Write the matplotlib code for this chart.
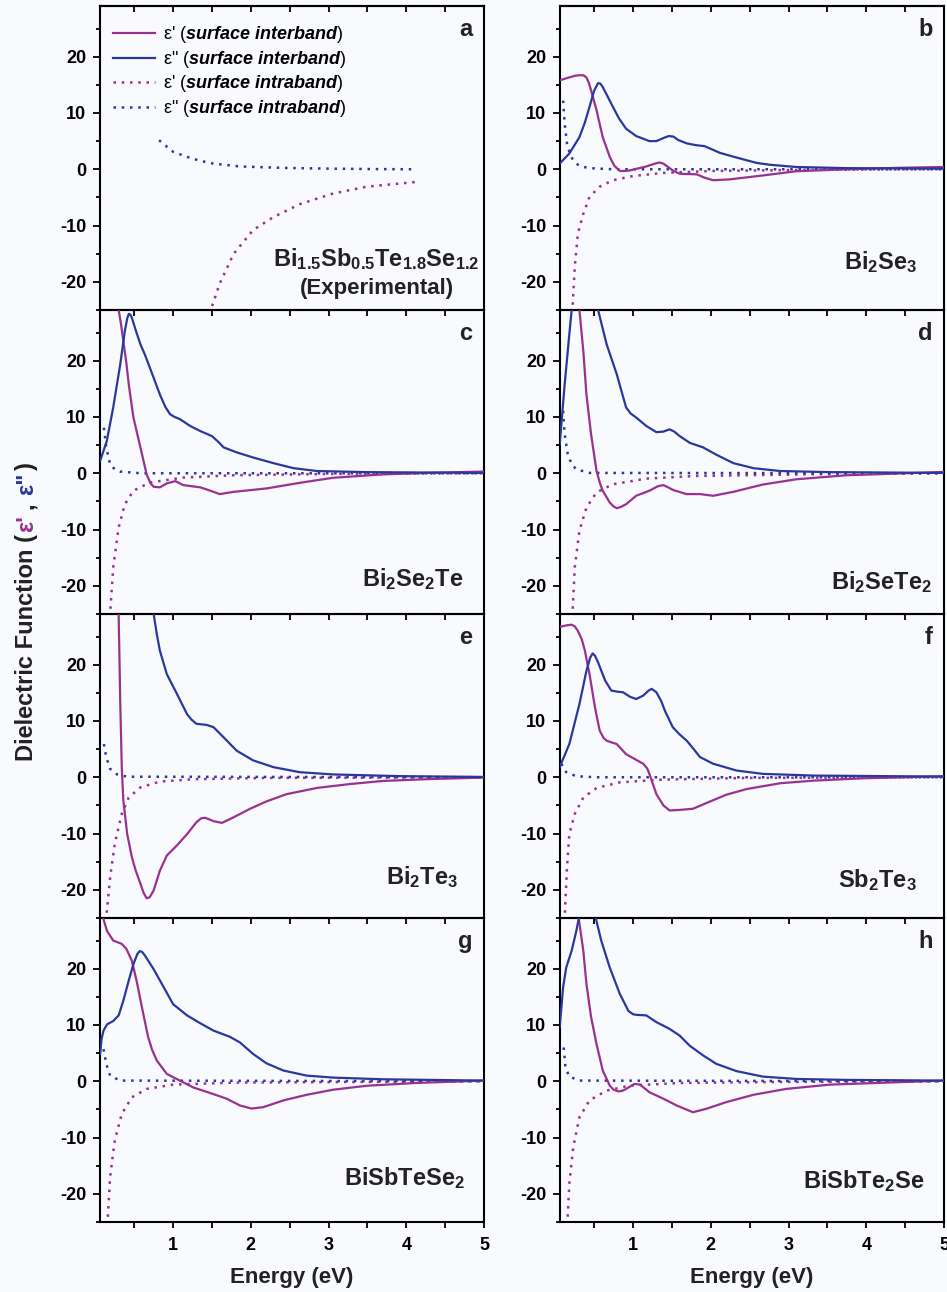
import matplotlib
matplotlib.use("Agg")
import matplotlib.pyplot as plt
from matplotlib.ticker import MultipleLocator
from matplotlib.transforms import IdentityTransform

plt.rcParams['font.family'] = ['Liberation Sans', 'DejaVu Sans']
plt.rcParams['font.weight'] = 'bold'
plt.rcParams['axes.unicode_minus'] = False
plt.rcParams['mathtext.fontset'] = 'custom'
plt.rcParams['mathtext.rm'] = 'Liberation Sans'
plt.rcParams['mathtext.it'] = 'Liberation Sans:italic'
plt.rcParams['mathtext.bf'] = 'Liberation Sans:bold'
plt.rcParams['mathtext.bfit'] = 'Liberation Sans:italic:bold'

PURPLE = '#98318F'
BLUE = '#2A389C'
BG = '#F9FAFD'

# ---- data: (energy eV, value) ----
# a: Bi1.5Sb0.5Te1.8Se1.2 (experimental), intraband only
a_intra_re = [(1.42, -27.0), (1.485, -25.0), (1.60, -20.3), (1.78, -15.0), (2.03, -10.8), (2.29, -8.5),
              (2.63, -6.2), (3.06, -4.3), (3.49, -3.1), (4.13, -2.25)]
a_intra_im = [(0.82, 5.15), (1.0, 3.1), (1.18, 2.2), (1.35, 1.5), (1.52, 1.0), (1.86, 0.5), (2.42, 0.24),
              (3.06, 0.1), (3.6, 0.03), (4.13, 0.0)]

# b: Bi2Se3
b_inter_re = [(0.056, 15.8), (0.15, 16.2), (0.25, 16.6), (0.31, 16.7), (0.36, 16.7), (0.40, 16.3), (0.43, 15.4),
              (0.46, 14.0), (0.53, 10.5), (0.61, 5.7), (0.70, 2.2), (0.76, 0.6), (0.83, -0.3), (0.90, -0.3),
              (0.96, -0.2), (1.17, 0.5), (1.28, 1.0), (1.34, 1.2), (1.39, 1.0), (1.45, 0.4), (1.52, -0.3),
              (1.60, -0.8), (1.82, -0.9), (1.92, -1.5), (2.03, -1.95), (2.24, -1.8), (2.67, -1.1),
              (3.10, -0.35), (3.75, 0.0), (4.39, 0.25), (5.0, 0.4)]
b_inter_im = [(0.056, 1.0), (0.18, 2.8), (0.31, 5.7), (0.38, 8.3), (0.44, 11.1), (0.50, 14.0), (0.55, 15.3),
              (0.58, 15.2), (0.61, 14.6), (0.67, 13.0), (0.74, 11.1), (0.82, 9.0), (0.91, 7.2), (1.04, 5.9),
              (1.21, 5.0), (1.30, 5.0), (1.40, 5.6), (1.46, 5.9), (1.52, 5.8), (1.58, 5.2), (1.69, 4.6),
              (1.80, 4.3), (1.92, 4.1), (2.02, 3.5), (2.12, 2.9), (2.30, 2.2), (2.46, 1.6), (2.60, 1.1),
              (2.76, 0.8), (3.10, 0.4), (3.75, 0.2), (5.0, 0.1)]
b_intra_re = [(0.215, -27.0), (0.22, -25.0), (0.25, -17.3), (0.29, -11.4), (0.36, -7.9), (0.44, -4.9),
              (0.57, -3.1), (0.74, -1.95), (1.0, -1.2), (1.39, -0.65), (2.03, -0.3), (3.3, -0.1), (5.0, 0.0)]
b_intra_im = [(0.10, 12.2), (0.12, 8.1), (0.15, 4.6), (0.19, 2.6), (0.23, 1.6), (0.29, 0.8), (0.36, 0.4),
              (0.5, 0.15), (0.74, 0.0), (5.0, 0.0)]

# c: Bi2Se2Te
c_inter_re = [(0.28, 33.0), (0.30, 29.0), (0.33, 26.5), (0.36, 23.5), (0.40, 19.5), (0.43, 15.8), (0.49, 9.9),
              (0.58, 4.6), (0.66, -0.2), (0.71, -1.8), (0.75, -2.4), (0.83, -2.5), (0.92, -1.8), (1.03, -1.4),
              (1.13, -2.1), (1.35, -2.5), (1.48, -3.1), (1.60, -3.7), (1.78, -3.3), (2.20, -2.7), (2.63, -1.7),
              (3.06, -0.8), (3.70, -0.2), (4.35, 0.1), (5.0, 0.3)]
c_inter_im = [(0.062, 2.2), (0.147, 5.7), (0.23, 11.7), (0.32, 19.3), (0.38, 25.3), (0.41, 27.5), (0.43, 28.3),
              (0.45, 28.2), (0.47, 27.6), (0.52, 25.4), (0.58, 22.9), (0.64, 21.0), (0.70, 18.8), (0.76, 16.6),
              (0.83, 14.0), (0.90, 11.8), (0.96, 10.5), (1.02, 10.0), (1.09, 9.6), (1.22, 8.4), (1.35, 7.5),
              (1.50, 6.6), (1.58, 5.6), (1.65, 4.6), (1.82, 3.7), (2.03, 2.8), (2.29, 1.8), (2.55, 0.9),
              (2.85, 0.4), (3.49, 0.2), (5.0, 0.06)]
c_intra_re = [(0.185, -27.0), (0.19, -25.0), (0.23, -16.7), (0.30, -9.6), (0.38, -5.5), (0.49, -3.1),
              (0.70, -1.65), (1.13, -0.77), (1.78, -0.35), (3.06, -0.12), (5.0, 0.0)]
c_intra_im = [(0.11, 8.1), (0.14, 4.6), (0.19, 1.6), (0.25, 0.7), (0.32, 0.3), (0.58, 0.0), (5.0, 0.0)]

# d: Bi2SeTe2
d_inter_re = [(0.30, 33.0), (0.31, 29.0), (0.36, 21.7), (0.40, 14.0), (0.46, 6.9), (0.53, 0.4), (0.57, -1.6),
              (0.61, -3.1), (0.70, -5.2), (0.75, -5.9), (0.79, -6.2), (0.84, -6.0), (0.91, -5.5), (1.04, -4.0),
              (1.21, -3.1), (1.32, -2.3), (1.39, -2.1), (1.45, -2.5), (1.52, -3.0), (1.69, -3.7), (1.86, -3.7),
              (2.03, -4.0), (2.29, -3.3), (2.67, -2.0), (3.10, -1.07), (3.75, -0.35), (4.39, -0.06), (5.0, 0.24)]
d_inter_im = [(0.056, 5.1), (0.12, 15.8), (0.18, 24.7), (0.21, 29.0), (0.33, 38.0), (0.55, 29.0), (0.66, 22.9),
              (0.79, 17.6), (0.91, 11.7), (0.97, 10.6), (1.04, 9.9), (1.17, 8.4), (1.30, 7.3), (1.39, 7.4),
              (1.47, 7.8), (1.53, 7.4), (1.60, 6.6), (1.73, 5.4), (1.90, 4.6), (2.07, 3.3), (2.29, 1.8),
              (2.55, 0.9), (2.89, 0.4), (3.53, 0.2), (5.0, 0.06)]
d_intra_re = [(0.215, -27.0), (0.22, -25.0), (0.25, -16.7), (0.31, -10.2), (0.40, -6.1), (0.53, -3.4),
              (0.74, -1.95), (1.17, -0.95), (1.82, -0.47), (3.32, -0.18), (5.0, 0.0)]
d_intra_im = [(0.10, 11.1), (0.12, 6.9), (0.16, 3.4), (0.21, 1.6), (0.27, 0.7), (0.44, 0.06), (5.0, 0.0)]

# e: Bi2Te3
e_inter_re = [(0.28, 40.0), (0.30, 29.0), (0.32, 13.6), (0.34, 1.8), (0.36, -4.1), (0.41, -10.1), (0.47, -14.2),
              (0.52, -16.6), (0.58, -18.9), (0.62, -20.5), (0.66, -21.5), (0.70, -21.3), (0.75, -20.1),
              (0.83, -16.6), (0.92, -13.9), (1.05, -12.1), (1.18, -10.1), (1.30, -8.0), (1.36, -7.3),
              (1.41, -7.2), (1.47, -7.5), (1.52, -7.8), (1.63, -8.1), (1.78, -7.1), (1.99, -5.6), (2.20, -4.3),
              (2.46, -3.0), (2.85, -1.9), (3.28, -1.2), (3.70, -0.65), (4.35, -0.3), (5.0, -0.06)]
e_inter_im = [(0.70, 34.0), (0.75, 29.0), (0.79, 25.5), (0.83, 22.5), (0.92, 18.3), (1.05, 14.8), (1.18, 11.2),
              (1.24, 10.2), (1.30, 9.5), (1.43, 9.3), (1.52, 8.9), (1.65, 7.1), (1.82, 4.7), (2.03, 3.0),
              (2.29, 1.8), (2.63, 0.9), (3.06, 0.5), (3.92, 0.2), (5.0, 0.06)]
e_intra_re = [(0.135, -27.0), (0.14, -25.0), (0.19, -17.8), (0.25, -11.8), (0.34, -6.5), (0.43, -3.6),
              (0.58, -1.8), (0.83, -0.77), (1.26, -0.35), (2.20, -0.12), (5.0, 0.0)]
e_intra_im = [(0.11, 5.9), (0.14, 3.6), (0.19, 1.5), (0.28, 0.5), (0.41, 0.1), (5.0, 0.0)]

# f: Sb2Te3
f_inter_re = [(0.056, 26.7), (0.15, 27.0), (0.21, 27.1), (0.25, 26.8), (0.29, 26.0), (0.34, 24.5), (0.38, 22.5),
              (0.44, 18.3), (0.51, 12.4), (0.57, 8.3), (0.62, 7.0), (0.66, 6.5), (0.72, 6.2), (0.79, 5.9),
              (0.85, 5.0), (0.91, 4.1), (1.04, 3.1), (1.13, 2.4), (1.18, 1.6), (1.21, 0.6), (1.30, -3.0),
              (1.39, -5.0), (1.47, -5.9), (1.60, -5.8), (1.77, -5.6), (1.94, -4.6), (2.20, -3.1), (2.46, -2.1),
              (2.89, -1.07), (3.32, -0.6), (3.96, -0.18), (5.0, 0.18)]
f_inter_im = [(0.056, 1.8), (0.18, 5.9), (0.31, 13.0), (0.40, 18.9), (0.45, 21.3), (0.48, 22.0), (0.51, 21.6),
              (0.55, 20.4), (0.64, 17.2), (0.72, 15.4), (0.80, 15.2), (0.87, 15.1), (0.96, 14.3), (1.04, 13.9),
              (1.13, 14.5), (1.20, 15.4), (1.24, 15.7), (1.30, 15.1), (1.36, 13.6), (1.41, 11.8), (1.51, 8.9),
              (1.60, 7.6), (1.69, 6.5), (1.78, 5.0), (1.86, 3.6), (2.03, 2.4), (2.33, 1.2), (2.67, 0.6),
              (3.32, 0.3), (5.0, 0.12)]
f_intra_re = [(0.115, -27.0), (0.12, -25.0), (0.15, -16.0), (0.18, -10.1), (0.25, -6.5), (0.36, -3.6),
              (0.53, -1.9), (0.83, -0.9), (1.39, -0.41), (2.46, -0.12), (5.0, 0.0)]
f_intra_im = [(0.077, 2.4), (0.14, 0.9), (0.27, 0.18), (0.53, 0.0), (5.0, 0.0)]

# g: BiSbTeSe2
g_inter_re = [(0.062, 31.0), (0.105, 28.8), (0.15, 26.7), (0.23, 25.0), (0.34, 24.4), (0.40, 23.5), (0.47, 21.4),
              (0.53, 17.9), (0.60, 13.1), (0.68, 7.8), (0.73, 5.6), (0.79, 3.7), (0.92, 1.3), (1.09, 0.1),
              (1.26, -1.1), (1.48, -2.1), (1.69, -3.1), (1.86, -4.3), (2.01, -4.85), (2.16, -4.6), (2.42, -3.4),
              (2.72, -2.4), (3.06, -1.5), (3.49, -0.8), (4.13, -0.3), (5.0, 0.12)]
g_inter_im = [(0.062, 4.85), (0.08, 7.5), (0.105, 9.0), (0.15, 10.1), (0.23, 10.7), (0.30, 11.7), (0.36, 14.3),
              (0.43, 17.9), (0.49, 20.8), (0.54, 22.6), (0.57, 23.1), (0.60, 23.0), (0.64, 22.3), (0.75, 19.9),
              (0.88, 16.7), (1.0, 13.7), (1.18, 11.7), (1.35, 10.3), (1.52, 9.0), (1.73, 7.9), (1.86, 6.9),
              (2.03, 4.85), (2.20, 3.2), (2.42, 1.9), (2.72, 1.0), (3.06, 0.65), (3.70, 0.35), (5.0, 0.12)]
g_intra_re = [(0.152, -27.0), (0.157, -25.0), (0.19, -17.0), (0.25, -10.5), (0.34, -5.8), (0.47, -2.85),
              (0.66, -1.36), (1.0, -0.6), (1.78, -0.24), (5.0, 0.0)]
g_intra_im = [(0.105, 5.7), (0.14, 3.1), (0.19, 1.0), (0.32, 0.12), (5.0, 0.0)]

# h: BiSbTe2Se
h_inter_re = [(0.28, 34.0), (0.30, 29.0), (0.36, 23.2), (0.40, 17.3), (0.46, 11.4), (0.53, 6.6), (0.61, 1.9),
              (0.70, -0.77), (0.75, -1.5), (0.81, -1.8), (0.86, -1.7), (0.91, -1.36), (1.02, -0.47), (1.09, -0.6),
              (1.21, -1.95), (1.39, -3.1), (1.56, -4.3), (1.77, -5.5), (1.94, -4.9), (2.20, -3.7), (2.55, -2.4),
              (2.97, -1.36), (3.53, -0.6), (4.39, -0.18), (5.0, 0.12)]
h_inter_im = [(0.056, 9.6), (0.10, 16.7), (0.14, 20.2), (0.21, 23.2), (0.27, 26.7), (0.30, 28.8), (0.40, 36.0),
              (0.52, 29.0), (0.59, 25.0), (0.70, 20.2), (0.83, 15.5), (0.94, 12.5), (1.0, 11.9), (1.04, 11.8),
              (1.17, 11.7), (1.30, 10.5), (1.47, 9.3), (1.60, 8.1), (1.73, 6.3), (1.90, 4.6), (2.07, 3.1),
              (2.33, 1.8), (2.67, 0.83), (3.10, 0.41), (3.75, 0.24), (5.0, 0.12)]
h_intra_re = [(0.15, -27.0), (0.155, -25.0), (0.18, -18.2), (0.23, -11.7), (0.31, -6.4), (0.44, -3.4),
              (0.66, -1.65), (0.96, -0.77), (1.60, -0.3), (2.89, -0.12), (5.0, 0.0)]
h_intra_im = [(0.107, 6.0), (0.13, 2.5), (0.18, 0.83), (0.31, 0.12), (5.0, 0.0)]

letters = ['a', 'b', 'c', 'd', 'e', 'f', 'g', 'h']
names = [r'$\mathbf{Bi_{1.5}Sb_{0.5}Te_{1.8}Se_{1.2}}$', r'$\mathbf{Bi_{2}Se_{3}}$', r'$\mathbf{Bi_{2}Se_{2}Te}$',
         r'$\mathbf{Bi_{2}SeTe_{2}}$', r'$\mathbf{Bi_{2}Te_{3}}$', r'$\mathbf{Sb_{2}Te_{3}}$',
         r'$\mathbf{BiSbTeSe_{2}}$', r'$\mathbf{BiSbTe_{2}Se}$']
inter_re = [None, b_inter_re, c_inter_re, d_inter_re, e_inter_re, f_inter_re, g_inter_re, h_inter_re]
inter_im = [None, b_inter_im, c_inter_im, d_inter_im, e_inter_im, f_inter_im, g_inter_im, h_inter_im]
intra_re = [a_intra_re, b_intra_re, c_intra_re, d_intra_re, e_intra_re, f_intra_re, g_intra_re, h_intra_re]
intra_im = [a_intra_im, b_intra_im, c_intra_im, d_intra_im, e_intra_im, f_intra_im, g_intra_im, h_intra_im]
legend_labels = [r"ε' ($\mathbfit{surface\ interband}$)", r'ε" ($\mathbfit{surface\ interband}$)',
                 r"ε' ($\mathbfit{surface\ intraband}$)", r'ε" ($\mathbfit{surface\ intraband}$)']

# label placement (axes fraction): x of right edge, y of baseline
name_pos = [(0.72, 0.145), (0.93, 0.135), (0.945, 0.092), (0.969, 0.082),
            (0.932, 0.112), (0.930, 0.102), (0.95, 0.122), (0.95, 0.112)]

W, H = 947, 1292
fig = plt.figure(figsize=(W / 100, H / 100), dpi=100, facecolor=BG)

lefts = [100, 560]
ax_w, ax_h, top0 = 384, 304, 6
DOT = (0, (1, 2.3))


def xy(pts):
    return [p[0] for p in pts], [p[1] for p in pts]


for i in range(8):
    row, col = divmod(i, 2)
    bottom = H - top0 - ax_h * (row + 1)
    ax = fig.add_axes([lefts[col] / W, bottom / H, ax_w / W, ax_h / H])
    ax.set_facecolor('none')

    if inter_re[i] is not None:
        ax.plot(*xy(inter_re[i]), color=PURPLE, lw=1.6, zorder=3)
        ax.plot(*xy(inter_im[i]), color=BLUE, lw=1.6, zorder=3)
    h_dr, = ax.plot(*xy(intra_re[i]), color=PURPLE, lw=1.8, linestyle=DOT, zorder=2)
    h_di, = ax.plot(*xy(intra_im[i]), color=BLUE, lw=1.8, linestyle=DOT, zorder=2)

    ax.set_xlim(0.06, 5)
    ax.set_ylim(-25, 29)
    ax.xaxis.set_major_locator(MultipleLocator(1))
    ax.xaxis.set_minor_locator(MultipleLocator(0.5))
    ax.yaxis.set_major_locator(MultipleLocator(10))
    ax.yaxis.set_minor_locator(MultipleLocator(5))
    ax.tick_params(axis='x', which='both', direction='out', length=4, width=1.3,
                   top=False, labelbottom=(row == 3), labelsize=13, pad=7)
    ax.tick_params(axis='y', which='major', direction='out', length=5, width=1.3, right=False,
                   labelsize=13, pad=5)
    ax.tick_params(axis='y', which='minor', direction='out', length=3, width=1.3, right=False)
    for s in ax.spines.values():
        s.set_linewidth(1.5)
    if row == 0:
        sec = ax.secondary_xaxis('top')
        sec.xaxis.set_major_locator(MultipleLocator(1))
        sec.xaxis.set_minor_locator(MultipleLocator(0.5))
        sec.tick_params(which='both', direction='in', length=4, width=1.3, labeltop=False)
        sec.spines['top'].set_linewidth(1.5)

    ax.text(0.97, 0.90, letters[i], transform=ax.transAxes, ha='right', va='baseline',
            fontsize=17, fontweight='bold', color='#222222')
    nx_, ny_ = name_pos[i]
    if i == 0:
        ax.text(nx_, ny_, names[i], transform=ax.transAxes, ha='center', va='baseline',
                fontsize=17, color='#222222')
        ax.text(nx_, 0.053, '(Experimental)', transform=ax.transAxes, ha='center', va='baseline',
                fontsize=16, fontweight='bold', color='#222222')
        leg_handles = [ax.plot([], [], color=PURPLE, lw=1.6)[0], ax.plot([], [], color=BLUE, lw=1.6)[0],
                       h_dr, h_di]
        ax.legend(leg_handles, legend_labels, loc='upper left', bbox_to_anchor=(0.035, 0.94),
                  frameon=False, prop={'weight': 'normal', 'size': 13}, handlelength=2.3,
                  handletextpad=0.45, labelspacing=0.2, borderpad=0, borderaxespad=0)
    else:
        ax.text(nx_, ny_, names[i], transform=ax.transAxes, ha='right', va='baseline',
                fontsize=17, color='#222222')

    if row == 3:
        fig.text((lefts[col] + ax_w / 2) / W, 1 - 1277 / H, 'Energy (eV)', ha='center', va='center',
                 fontsize=16, fontweight='bold', color='#222222')

# multi-coloured y label, stacked bottom to top in pixel coordinates
pieces = [("Dielectric Function (", '#222222'), ("ε'", PURPLE), (",", '#222222'), ('ε"', BLUE), (")", '#222222')]
gaps = [2, 7, 7, 2, 0]
texts = [fig.text(33, 0, s, transform=IdentityTransform(), rotation=90, rotation_mode='anchor',
                  ha='left', va='baseline', color=c, fontsize=17, fontweight='bold') for s, c in pieces]
renderer = fig.canvas.get_renderer()
lengths = [t.get_window_extent(renderer).height for t in texts]
y = (H - 612) - (sum(lengths) + sum(gaps)) / 2
for t, L, g in zip(texts, lengths, gaps):
    t.set_y(y)
    y += L + g

fig.savefig('out.png', dpi=100, facecolor=BG)
